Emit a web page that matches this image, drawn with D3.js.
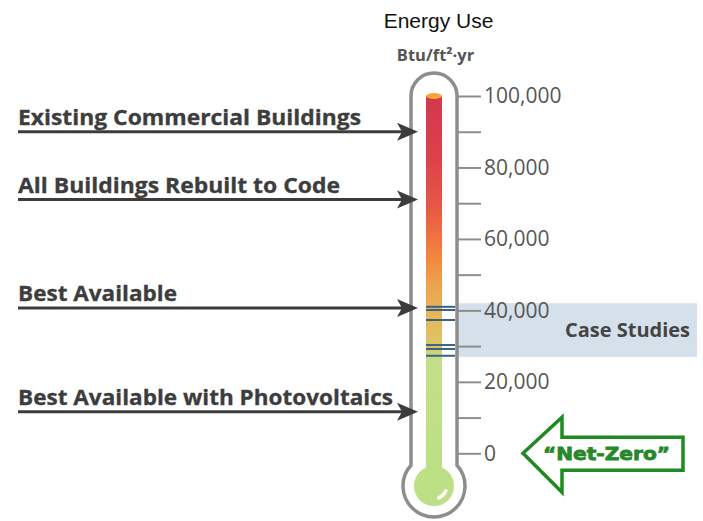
<!DOCTYPE html>
<html>
<head>
<meta charset="utf-8">
<script src="https://cdn.jsdelivr.net/npm/d3@7"></script>
<style>
  html, body { margin: 0; padding: 0; background: #fff; }
  svg { display: block; }
</style>
</head>
<body>
<svg id="chart" width="703" height="521"></svg>
<script>
// ---- data ----
const title = "Energy Use";
const unitLabel = "Btu/ft²·yr";
const axisTicks = [0, 10000, 20000, 30000, 40000, 50000, 60000, 70000, 80000, 90000, 100000];
const majorTicks = [0, 20000, 40000, 60000, 80000, 100000];
const levelNames = ["Existing Commercial Buildings", "All Buildings Rebuilt to Code", "Best Available", "Best Available with Photovoltaics"];
const levelValues = [90000, 71000, 40700, 11600];
const caseStudyValues = [41000, 40100, 37300, 30300, 29200, 27300];
const caseBand = [27000, 42000];
const caseLabel = "Case Studies";
const mercuryTop = 100000;
const netZeroLabel = "“Net-Zero”";
const netZeroValue = 0;

// ---- drawing ----
const svg = d3.select("#chart");
const y = d3.scaleLinear().domain([0, 100000]).range([453.3, 96]);

const cx = 434, tubeHalf = 23, bulbCy = 486, bulbR = 31;
const mercHalf = 8, greenR = 20;
const arrowX0 = 18, arrowTip = 418;
const labelWidths = [343, 322, 159, 375];

// gradient for mercury
const defs = svg.append("defs");
const grad = defs.append("linearGradient").attr("id", "merc")
  .attr("gradientUnits", "userSpaceOnUse")
  .attr("x1", 0).attr("x2", 0).attr("y1", y(100000)).attr("y2", y(0));
const stops = [
  [100000, "#d4374f"], [82000, "#dc4249"], [68000, "#e85a44"], [57000, "#f07f3f"],
  [48000, "#eea04e"], [38000, "#e4b95c"], [29500, "#dcc666"], [27000, "#c3de8a"], [0, "#bde087"]
];
stops.forEach(([v, c]) => grad.append("stop")
  .attr("offset", (y(v) - y(100000)) / (y(0) - y(100000))).attr("stop-color", c));

// title
svg.append("text").attr("x", 438.5).attr("y", 28).attr("text-anchor", "middle")
  .attr("font-family", "Liberation Sans, Arial, sans-serif").attr("font-size", 21)
  .attr("fill", "#111").text(title);
svg.append("text").attr("x", 435.5).attr("y", 61).attr("text-anchor", "middle")
  .attr("font-family", "Open Sans, sans-serif").attr("font-weight", "bold").attr("font-size", 16.5)
  .attr("fill", "#555").text(unitLabel);

// case studies band
svg.append("rect").attr("x", cx + tubeHalf).attr("y", y(caseBand[1]))
  .attr("width", 697 - (cx + tubeHalf)).attr("height", y(caseBand[0]) - y(caseBand[1]))
  .attr("fill", "#d5e0eb");
svg.append("text").attr("x", 565).attr("y", (y(caseBand[0]) + y(caseBand[1])) / 2)
  .attr("dy", "0.35em")
  .attr("textLength", 125).attr("lengthAdjust", "spacingAndGlyphs")
  .attr("font-family", "Open Sans, sans-serif").attr("font-weight", "bold").attr("font-size", 19)
  .attr("fill", "#444").text(caseLabel);

// axis
const axis = d3.axisRight(y).tickValues(axisTicks).tickSize(24).tickPadding(3)
  .tickFormat(d => majorTicks.includes(d) ? d3.format(",")(d) : "");
const ag = svg.append("g").attr("transform", `translate(${cx + tubeHalf},0)`).call(axis);
ag.select(".domain").remove();
ag.selectAll(".tick line").attr("stroke", "#8d8d8d").attr("stroke-width", 2);
ag.selectAll(".tick text").attr("fill", "#555").attr("font-size", 21)
  .attr("font-family", "Open Sans, sans-serif");

// tube outline
const jy = bulbCy - Math.sqrt(bulbR * bulbR - tubeHalf * tubeHalf);
const tubeTop = y(mercuryTop);
const tubePath = `M${cx - tubeHalf},${jy} L${cx - tubeHalf},${tubeTop} ` +
  `A${tubeHalf},${tubeHalf} 0 0 1 ${cx + tubeHalf},${tubeTop} L${cx + tubeHalf},${jy} ` +
  `A${bulbR},${bulbR} 0 1 1 ${cx - tubeHalf},${jy} Z`;
svg.append("path").attr("d", tubePath).attr("fill", "#fff")
  .attr("stroke", "#8d8d8d").attr("stroke-width", 3.5);

// mercury column
svg.append("rect").attr("x", cx - mercHalf).attr("y", y(mercuryTop))
  .attr("width", mercHalf * 2).attr("height", bulbCy - y(mercuryTop))
  .attr("fill", "url(#merc)");
svg.append("ellipse").attr("cx", cx).attr("cy", y(mercuryTop)).attr("rx", mercHalf).attr("ry", 3)
  .attr("fill", "#f6a637");
svg.append("circle").attr("cx", cx).attr("cy", bulbCy).attr("r", greenR).attr("fill", "#bde087");
const hl = d3.arc().innerRadius(11).outerRadius(14.5).startAngle(Math.PI * 0.58).endAngle(Math.PI * 0.92).cornerRadius(1.6);
svg.append("path").attr("d", hl()).attr("transform", `translate(${cx},${bulbCy})`).attr("fill", "#ffffff");

// case study lines
svg.append("g").selectAll("line").data(caseStudyValues).join("line")
  .attr("x1", cx - mercHalf).attr("x2", cx + tubeHalf - 2)
  .attr("y1", d => y(d)).attr("y2", d => y(d))
  .attr("stroke", "#3a6285").attr("stroke-width", 2);

// level arrows
const lg = svg.append("g").selectAll("g").data(levelNames).join("g");
lg.append("line").attr("x1", arrowX0).attr("x2", arrowTip - 12)
  .attr("y1", (d, i) => y(levelValues[i])).attr("y2", (d, i) => y(levelValues[i]))
  .attr("stroke", "#3c3c3c").attr("stroke-width", 3);
lg.append("path").attr("d", (d, i) => {
  const yy = y(levelValues[i]);
  return `M${arrowTip},${yy} L${arrowTip - 21},${yy - 9} L${arrowTip - 16},${yy} L${arrowTip - 21},${yy + 9} Z`;
}).attr("fill", "#3c3c3c");
lg.append("text").attr("x", arrowX0).attr("y", (d, i) => y(levelValues[i]) - 7)
  .attr("textLength", (d, i) => labelWidths[i]).attr("lengthAdjust", "spacingAndGlyphs")
  .attr("font-family", "Open Sans, sans-serif").attr("font-weight", "bold").attr("font-size", 21)
  .attr("fill", "#3d3d3d").attr("stroke", "#3d3d3d").attr("stroke-width", 0.3).text(d => d);

// net-zero arrow
const ny = y(netZeroValue);
const nz = `M523,${ny} L562,${ny - 36} L562,${ny - 16} L683,${ny - 16} L683,${ny + 17} L562,${ny + 17} L562,${ny + 39} Z`;
svg.append("path").attr("d", nz).attr("fill", "#fff").attr("stroke", "#1f8a22").attr("stroke-width", 3.5)
  .attr("stroke-linejoin", "miter");
svg.append("text").attr("x", 543).attr("y", ny).attr("dy", "0.36em")
  .attr("textLength", 127).attr("lengthAdjust", "spacingAndGlyphs")
  .attr("font-family", "DejaVu Sans, sans-serif").attr("font-weight", "bold").attr("font-size", 18)
  .attr("fill", "#27882a").attr("stroke", "#27882a").attr("stroke-width", 0.8).text(netZeroLabel);
</script>
</body>
</html>
